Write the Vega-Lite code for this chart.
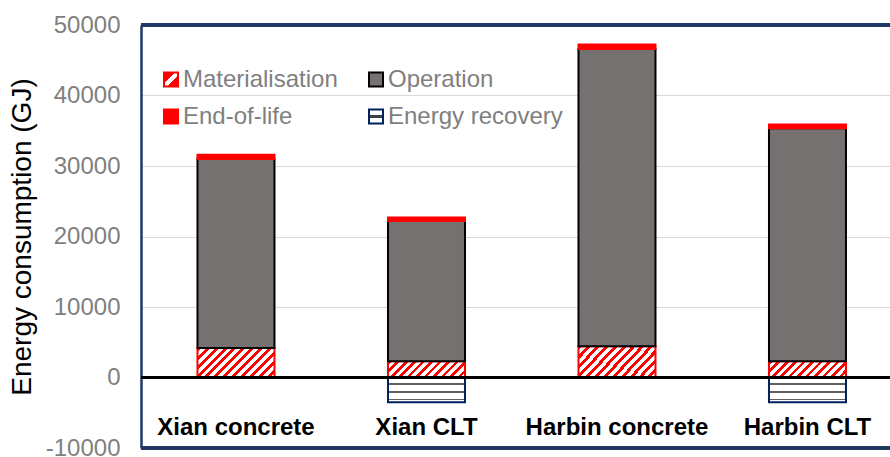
{
  "$schema": "https://vega.github.io/schema/vega-lite/v6.json",
  "width": 749,
  "height": 423,
  "autosize": {"type": "none"},
  "padding": {"left": 141, "top": 25, "right": 0, "bottom": 9},
  "background": "#ffffff",
  "config": {
    "view": {"stroke": null},
    "font": "Liberation Sans"
  },
  "data": {
    "values": [
      {"building": "Xian concrete", "type": "concrete", "component": "Materialisation", "value": 4200, "order": 1},
      {"building": "Xian concrete", "type": "concrete", "component": "Operation", "value": 26800, "order": 2},
      {"building": "Xian concrete", "type": "concrete", "component": "End-of-life", "value": 600, "order": 3},
      {"building": "Xian CLT", "type": "CLT", "component": "Materialisation", "value": 2300, "order": 1},
      {"building": "Xian CLT", "type": "CLT", "component": "Operation", "value": 19900, "order": 2},
      {"building": "Xian CLT", "type": "CLT", "component": "End-of-life", "value": 500, "order": 3},
      {"building": "Xian CLT", "type": "CLT", "component": "Energy recovery", "value": -3500, "order": 4},
      {"building": "Harbin concrete", "type": "concrete", "component": "Materialisation", "value": 4450, "order": 1},
      {"building": "Harbin concrete", "type": "concrete", "component": "Operation", "value": 42150, "order": 2},
      {"building": "Harbin concrete", "type": "concrete", "component": "End-of-life", "value": 640, "order": 3},
      {"building": "Harbin CLT", "type": "CLT", "component": "Materialisation", "value": 2300, "order": 1},
      {"building": "Harbin CLT", "type": "CLT", "component": "Operation", "value": 33050, "order": 2},
      {"building": "Harbin CLT", "type": "CLT", "component": "End-of-life", "value": 540, "order": 3},
      {"building": "Harbin CLT", "type": "CLT", "component": "Energy recovery", "value": -3500, "order": 4}
    ]
  },
  "layer": [
    {
      "mark": {
        "type": "bar",
        "strokeWidth": 2,
        "fill": {"expr": "(datum.component || datum.value) === 'Materialisation' ? (datum.type === 'concrete' ? {gradient: 'linear', x1: 0, y1: 0, x2: 1.206, y2: 0.464, stops: [{offset: 0, color: 'red'}, {offset: 0.0375, color: 'red'}, {offset: 0.0375, color: 'white'}, {offset: 0.0833, color: 'white'}, {offset: 0.0833, color: 'red'}, {offset: 0.1208, color: 'red'}, {offset: 0.1208, color: 'white'}, {offset: 0.1667, color: 'white'}, {offset: 0.1667, color: 'red'}, {offset: 0.2042, color: 'red'}, {offset: 0.2042, color: 'white'}, {offset: 0.25, color: 'white'}, {offset: 0.25, color: 'red'}, {offset: 0.2875, color: 'red'}, {offset: 0.2875, color: 'white'}, {offset: 0.3333, color: 'white'}, {offset: 0.3333, color: 'red'}, {offset: 0.3708, color: 'red'}, {offset: 0.3708, color: 'white'}, {offset: 0.4167, color: 'white'}, {offset: 0.4167, color: 'red'}, {offset: 0.4542, color: 'red'}, {offset: 0.4542, color: 'white'}, {offset: 0.5, color: 'white'}, {offset: 0.5, color: 'red'}, {offset: 0.5375, color: 'red'}, {offset: 0.5375, color: 'white'}, {offset: 0.5833, color: 'white'}, {offset: 0.5833, color: 'red'}, {offset: 0.6208, color: 'red'}, {offset: 0.6208, color: 'white'}, {offset: 0.6667, color: 'white'}, {offset: 0.6667, color: 'red'}, {offset: 0.7042, color: 'red'}, {offset: 0.7042, color: 'white'}, {offset: 0.75, color: 'white'}, {offset: 0.75, color: 'red'}, {offset: 0.7875, color: 'red'}, {offset: 0.7875, color: 'white'}, {offset: 0.8333, color: 'white'}, {offset: 0.8333, color: 'red'}, {offset: 0.8708, color: 'red'}, {offset: 0.8708, color: 'white'}, {offset: 0.9167, color: 'white'}, {offset: 0.9167, color: 'red'}, {offset: 0.9542, color: 'red'}, {offset: 0.9542, color: 'white'}, {offset: 1, color: 'white'}]} : datum.type === 'CLT' ? {gradient: 'linear', x1: 0, y1: 0, x2: 1.159, y2: 0.2435, stops: [{offset: 0, color: 'red'}, {offset: 0.0409, color: 'red'}, {offset: 0.0409, color: 'white'}, {offset: 0.0909, color: 'white'}, {offset: 0.0909, color: 'red'}, {offset: 0.1318, color: 'red'}, {offset: 0.1318, color: 'white'}, {offset: 0.1818, color: 'white'}, {offset: 0.1818, color: 'red'}, {offset: 0.2227, color: 'red'}, {offset: 0.2227, color: 'white'}, {offset: 0.2727, color: 'white'}, {offset: 0.2727, color: 'red'}, {offset: 0.3136, color: 'red'}, {offset: 0.3136, color: 'white'}, {offset: 0.3636, color: 'white'}, {offset: 0.3636, color: 'red'}, {offset: 0.4045, color: 'red'}, {offset: 0.4045, color: 'white'}, {offset: 0.4545, color: 'white'}, {offset: 0.4545, color: 'red'}, {offset: 0.4954, color: 'red'}, {offset: 0.4954, color: 'white'}, {offset: 0.5455, color: 'white'}, {offset: 0.5455, color: 'red'}, {offset: 0.5864, color: 'red'}, {offset: 0.5864, color: 'white'}, {offset: 0.6364, color: 'white'}, {offset: 0.6364, color: 'red'}, {offset: 0.6773, color: 'red'}, {offset: 0.6773, color: 'white'}, {offset: 0.7273, color: 'white'}, {offset: 0.7273, color: 'red'}, {offset: 0.7682, color: 'red'}, {offset: 0.7682, color: 'white'}, {offset: 0.8182, color: 'white'}, {offset: 0.8182, color: 'red'}, {offset: 0.8591, color: 'red'}, {offset: 0.8591, color: 'white'}, {offset: 0.9091, color: 'white'}, {offset: 0.9091, color: 'red'}, {offset: 0.95, color: 'red'}, {offset: 0.95, color: 'white'}, {offset: 1, color: 'white'}]} : {gradient: 'linear', x1: 0, y1: 0, x2: 1, y2: 1, stops: [{offset: 0, color: 'red'}, {offset: 0.38, color: 'red'}, {offset: 0.38, color: 'white'}, {offset: 0.62, color: 'white'}, {offset: 0.62, color: 'red'}, {offset: 1, color: 'red'}]}) : (datum.component || datum.value) === 'Energy recovery' ? (datum.type ? {gradient: 'linear', x1: 0, y1: 0, x2: 0, y2: 1, stops: [{offset: 0, color: 'white'}, {offset: 0.235, color: 'white'}, {offset: 0.235, color: '#606060'}, {offset: 0.305, color: '#606060'}, {offset: 0.305, color: 'white'}, {offset: 0.547, color: 'white'}, {offset: 0.547, color: '#606060'}, {offset: 0.615, color: '#606060'}, {offset: 0.615, color: 'white'}, {offset: 0.858, color: 'white'}, {offset: 0.858, color: '#606060'}, {offset: 0.92, color: '#606060'}, {offset: 0.92, color: 'white'}, {offset: 1, color: 'white'}]} : {gradient: 'linear', x1: 0, y1: 0, x2: 0, y2: 1, stops: [{offset: 0, color: 'white'}, {offset: 0.4, color: 'white'}, {offset: 0.4, color: '#404040'}, {offset: 0.6, color: '#404040'}, {offset: 0.6, color: 'white'}, {offset: 1, color: 'white'}]}) : (datum.component || datum.value) === 'End-of-life' ? '#FF0000' : '#767171'"}
      },
      "encoding": {
        "x": {
          "field": "building",
          "type": "nominal",
          "sort": ["Xian concrete", "Xian CLT", "Harbin concrete", "Harbin CLT"],
          "scale": {"paddingInner": 0.5958, "paddingOuter": 0.2638, "align": 0.562},
          "axis": {
            "title": null,
            "domain": false,
            "ticks": false,
            "tickSize": 0,
            "labelAngle": 0,
            "labelPadding": -21,
            "labelBaseline": "middle",
            "labelFont": "Liberation Sans",
            "labelFontSize": 24,
            "labelFontWeight": "bold",
            "labelColor": "#000000",
            "labelLimit": 300
          }
        },
        "y": {
          "field": "value",
          "type": "quantitative",
          "stack": "zero",
          "scale": {"domain": [-10000, 50000], "nice": false, "zero": false},
          "axis": {
            "title": "Energy consumption (GJ)",
            "titleFont": "Liberation Sans",
            "titleFontSize": 28,
            "titleFontWeight": "normal",
            "titleColor": "#000000",
            "titlePadding": 9,
            "values": [-10000, 0, 10000, 20000, 30000, 40000, 50000],
            "format": "d",
            "labelExpr": "replace(datum.label, '\u2212', '-')",
            "labelFont": "Liberation Sans",
            "labelFontSize": 24,
            "labelColor": "#7F7F7F",
            "labelPadding": 21,
            "labelFlush": false,
            "labelOverlap": false,
            "ticks": false,
            "domainColor": "#1F3864",
            "domainWidth": 2.5,
            "gridColor": "#D9D9D9",
            "gridWidth": 1
          }
        },
        "order": {"field": "order", "type": "quantitative"},
        "stroke": {
          "field": "component",
          "type": "nominal",
          "scale": {
            "domain": ["Materialisation", "End-of-life", "Operation", "Energy recovery"],
            "range": ["#FF0000", "#FF0000", "#000000", "#002060"]
          },
          "legend": {
            "title": null,
            "orient": "none",
            "legendX": 18,
            "legendY": 42.5,
            "columns": 2,
            "padding": 0,
            "offset": 0,
            "symbolType": "square",
            "symbolSize": 196,
            "symbolStrokeWidth": 2,
            "labelFont": "Liberation Sans",
            "labelFontSize": 24,
            "labelColor": "#7F7F7F",
            "labelOffset": 0,
            "labelLimit": 400,
            "rowPadding": 13,
            "columnPadding": 26
          }
        }
      }
    },
    {
      "mark": {"type": "rule", "color": "#000000", "strokeWidth": 2},
      "encoding": {"y": {"datum": 0}}
    },
    {
      "mark": {"type": "rule", "color": "#1F3864", "strokeWidth": 2.5},
      "encoding": {"y": {"datum": 50000}}
    },
    {
      "mark": {"type": "rule", "color": "#1F3864", "strokeWidth": 2.5},
      "encoding": {"y": {"datum": -10000}}
    }
  ]
}
